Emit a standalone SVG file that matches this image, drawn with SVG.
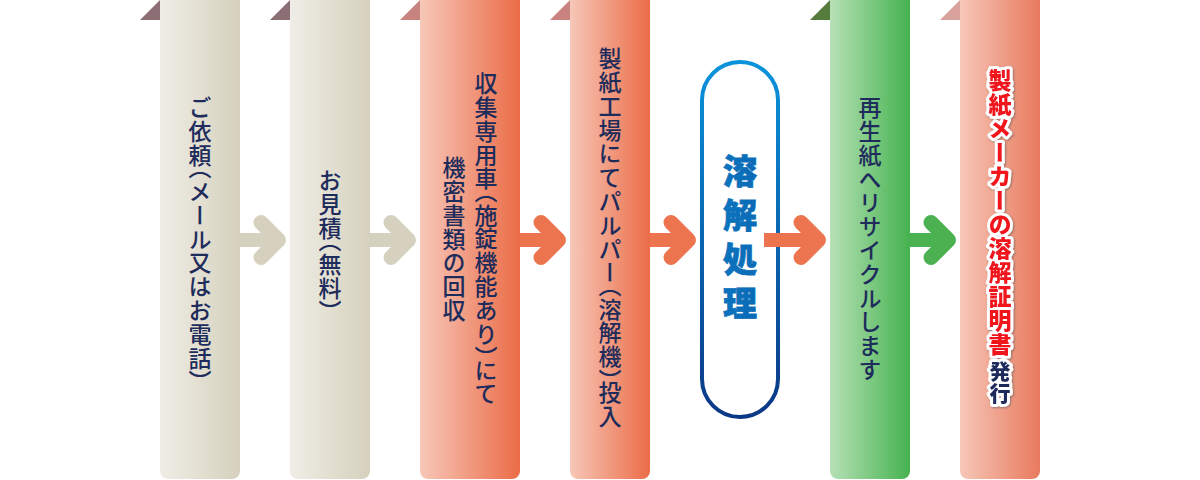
<svg xmlns="http://www.w3.org/2000/svg" width="1200" height="480" viewBox="0 0 1200 480">
<defs>
<linearGradient id="gBeige" x1="0" y1="0" x2="1" y2="0"><stop offset="0" stop-color="#efede6"/><stop offset="1" stop-color="#d6d1bd"/></linearGradient>
<linearGradient id="gSalmon" x1="0" y1="0" x2="1" y2="0"><stop offset="0" stop-color="#f7c7b8"/><stop offset="1" stop-color="#eb6c47"/></linearGradient>
<linearGradient id="gGreen" x1="0" y1="0" x2="1" y2="0"><stop offset="0" stop-color="#b6e1b6"/><stop offset="1" stop-color="#45b24f"/></linearGradient>
<linearGradient id="gSalmon2" x1="0" y1="0" x2="1" y2="0"><stop offset="0" stop-color="#f7c7b8"/><stop offset="1" stop-color="#e87a5e"/></linearGradient>
<linearGradient id="gPill" gradientUnits="userSpaceOnUse" x1="0" y1="60" x2="0" y2="420"><stop offset="0" stop-color="#0a93dc"/><stop offset="1" stop-color="#0b3785"/></linearGradient>
<linearGradient id="gPillText" gradientUnits="userSpaceOnUse" x1="0" y1="155" x2="0" y2="325"><stop offset="0" stop-color="#0b72bd"/><stop offset="1" stop-color="#0a4793"/></linearGradient>
<filter id="shadow" x="-30%" y="-10%" width="160%" height="120%"><feDropShadow dx="1" dy="1" stdDeviation="1" flood-color="#555" flood-opacity="0.6"/></filter>
</defs>
<style>
.t{font-family:"Noto Sans CJK JP","Noto Sans CJK SC",sans-serif;font-size:23px;font-weight:500;fill:#1e2c5c;writing-mode:vertical-rl;letter-spacing:0.8px}
.p{font-feature-settings:"vhal" 1}
.shaft{fill:none;stroke-width:14}
.head{fill:none;stroke-width:15;stroke-linecap:round;stroke-linejoin:round}
.beige{stroke:#d6d1be}
.orange{stroke:#ec7550}
.green{stroke:#4bb151}
.big{font-family:"Noto Sans CJK JP","Noto Sans CJK SC",sans-serif;font-size:34px;font-weight:900;writing-mode:vertical-rl;letter-spacing:10px;fill:url(#gPillText);stroke:url(#gPillText);stroke-width:0.8}
.red{font-family:"Noto Sans CJK JP","Noto Sans CJK SC",sans-serif;font-weight:900;writing-mode:vertical-rl;stroke:#fff;stroke-width:6;stroke-linejoin:round;paint-order:stroke;filter:url(#shadow)}
</style>

<g id="connectors">
<path class="shaft beige" d="M240 240H279"/><polyline class="head beige" points="261,222.5 278.5,240 261,257.5"/>
<path class="shaft beige" d="M370 240H409"/><polyline class="head beige" points="391,222.5 408.5,240 391,257.5"/>
<path class="shaft orange" d="M520 240H559"/><polyline class="head orange" points="541,222.5 558.5,240 541,257.5"/>
<path class="shaft orange" d="M650 240H689"/><polyline class="head orange" points="671,222.5 688.5,240 671,257.5"/>
<path class="shaft green" d="M910 240H949"/><polyline class="head green" points="931,222.5 948.5,240 931,257.5"/>
</g>

<g id="step1">
<polygon points="140,20 160,0 160,20" fill="#8c6f74"/>
<path d="M160 0H240V471A8 8 0 0 1 232 479H168A8 8 0 0 1 160 471Z" fill="url(#gBeige)"/>
<text class="t" x="200" y="96">ご依頼<tspan class="p">（</tspan>メール又はお電話<tspan class="p">）</tspan></text>
</g>

<g id="step2">
<polygon points="270,20 290,0 290,20" fill="#8c6f74"/>
<path d="M290 0H370V471A8 8 0 0 1 362 479H298A8 8 0 0 1 290 471Z" fill="url(#gBeige)"/>
<text class="t" x="330" y="169">お見積<tspan class="p">（</tspan>無料<tspan class="p">）</tspan></text>
</g>

<g id="step3">
<polygon points="400,20 420,0 420,20" fill="#c8837e"/>
<path d="M420 0H520V471A8 8 0 0 1 512 479H428A8 8 0 0 1 420 471Z" fill="url(#gSalmon)"/>
<text class="t" x="486" y="72">収集専用車<tspan class="p">（</tspan>施錠機能あり<tspan class="p">）</tspan>にて</text>
<text class="t" x="454" y="156">機密書類の回収</text>
</g>

<g id="step4">
<polygon points="550,20 570,0 570,20" fill="#c8837e"/>
<path d="M570 0H650V471A8 8 0 0 1 642 479H578A8 8 0 0 1 570 471Z" fill="url(#gSalmon)"/>
<text class="t" x="610" y="47">製紙工場にてパルパー<tspan class="p">（</tspan>溶解機<tspan class="p">）</tspan>投入</text>
</g>

<g id="step5">
<rect x="702" y="62" width="76" height="355" rx="38" fill="#fff" stroke="url(#gPill)" stroke-width="4"/>
<text class="big" x="740" y="154">溶解処理</text>
</g>

<g id="connector5">
<path class="shaft orange" d="M764 240H819"/><polyline class="head orange" points="801,222.5 818.5,240 801,257.5"/>
</g>

<g id="step6">
<polygon points="810,20 830,0 830,20" fill="#557c3c"/>
<path d="M830 0H910V471A8 8 0 0 1 902 479H838A8 8 0 0 1 830 471Z" fill="url(#gGreen)"/>
<text class="t" x="870" y="96">再生紙へリサイクルします</text>
</g>

<g id="step7">
<polygon points="940,20 960,0 960,20" fill="#d8a19c"/>
<path d="M960 0H1040V471A8 8 0 0 1 1032 479H968A8 8 0 0 1 960 471Z" fill="url(#gSalmon2)"/>
<text class="red" x="1000" y="69" font-size="23" fill="#f0141e" letter-spacing="1">製紙メーカーの溶解証明書</text>
<text class="red" x="1000" y="361" font-size="21" fill="#1e2c5c" letter-spacing="1">発行</text>
</g>
</svg>
